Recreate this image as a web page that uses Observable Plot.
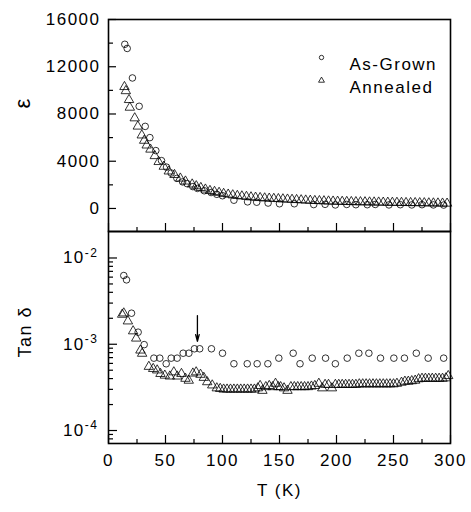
<!DOCTYPE html>
<html><head><meta charset="utf-8">
<script src="https://cdn.jsdelivr.net/npm/d3@7"></script>
<script src="https://cdn.jsdelivr.net/npm/@observablehq/plot@0.6"></script>
<style>
body{margin:0;background:#fff;}
#wrap{position:relative;width:471px;height:512px;font-family:"Liberation Sans",Arial,sans-serif;color:#000;}
#wrap svg{position:absolute;left:0;overflow:visible;}
</style></head><body><div id="wrap"></div>
<script>
// ---- data: permittivity (top panel) ----
const epsAsGrownT = [14.3,16.4,21,26.9,32.2,36.3,41.5,46.5,50.9,55,60,65,69,74,78,84,90,95,100,110,122,130,140,150,163,180,190,199,209,217,227,234,246,256,266,275,285,294];
const epsAsGrownV = [13900,13550,11050,8650,6950,6000,4900,4050,3500,3000,2550,2250,2100,1850,1700,1500,1350,1200,1080,700,560,530,460,400,400,330,350,300,340,320,320,340,300,320,300,320,300,290];
const epsAnnealedT = [14,15.2,18,18.7,23,25.7,29.2,31.3,33.5,36.8,40.6,44,48.5,52.9,57.9,63,67.5,73.4,77,81,85,89,93,97,101,105,109,113,117,121,125,129,133,137,141,145,149,153,157,161,165,169,173,177,181,185,189,193,197,201,205,209,213,217,221,225,229,233,237,241,245,249,253,257,261,265,269,273,277,281,285,289,293,297];
const epsAnnealedV = [10300,9950,9200,8550,7650,6950,6200,5750,5350,5000,4450,3950,3550,3150,2850,2550,2300,2050,1900,1750,1620,1500,1420,1340,1250,1190,1130,1080,1040,1000,960,930,900,870,850,830,810,790,770,750,730,710,690,670,650,640,625,610,600,590,580,570,560,550,545,540,530,525,520,510,505,500,495,490,480,475,470,465,460,450,445,440,430,425];

// ---- data: loss tangent (bottom panel) ----
const tanAsGrownT = [13.4,15.8,20.2,26,31.3,39.8,45,50.6,55,60.2,65.5,70.5,75.4,80,90.3,100,110,121.7,130.4,139.8,149.4,162,168,178.7,190.4,199,209.4,219.6,228.4,238.6,250.3,259.6,270,280.4,294];
const tanAsGrownV = [6.26e-3,5.58e-3,2.29e-3,1.38e-3,9.9e-4,6.9e-4,6.9e-4,5.94e-4,6.9e-4,6.9e-4,7.87e-4,7.87e-4,8.86e-4,8.86e-4,8.86e-4,7.87e-4,5.94e-4,5.94e-4,5.94e-4,5.94e-4,6.9e-4,7.87e-4,5.94e-4,6.9e-4,6.9e-4,5.94e-4,6.9e-4,7.87e-4,7.87e-4,6.9e-4,6.9e-4,6.9e-4,7.87e-4,6.9e-4,6.9e-4];
const tanAnnealedT = [12,13.4,17,21.6,24.3,28,29.5,35.4,39.2,42.7,45.6,49.4,53.8,57.3,60.3,64,67.5,70.4,74,76.9,80.7,83.6,86.6,91,95,98,101,104,107,110,113,116,119,122,125,128,131,133,135,138,141,144,146.5,149,151,154,157,160,163,166,169,172,175,178,181,184.5,187.5,190,193,196,199,202,205,208,211,214,217,220,223,226,229,232,235,238,241,244,247,250,253,257,260,263,266,269,272,275,278,281,284,287,290,293,296,298];
const tanAnnealedV = [2.21e-3,2.29e-3,1.85e-3,1.42e-3,1.17e-3,8.5e-4,7.8e-4,5.5e-4,5.2e-4,5.0e-4,4.55e-4,4.35e-4,4.25e-4,4.75e-4,4.25e-4,4.55e-4,4.0e-4,3.8e-4,4.6e-4,4.75e-4,4.45e-4,4.1e-4,3.65e-4,3.35e-4,3.1e-4,3.05e-4,3.0e-4,3.0e-4,3.0e-4,3.0e-4,3.0e-4,3.0e-4,3.0e-4,3.0e-4,3.0e-4,3.0e-4,3.1e-4,3.3e-4,2.9e-4,3.2e-4,3.3e-4,3.2e-4,3.5e-4,3.2e-4,3.2e-4,3.1e-4,2.9e-4,3.2e-4,3.2e-4,3.2e-4,3.2e-4,3.2e-4,3.2e-4,3.25e-4,3.3e-4,3.5e-4,3.1e-4,3.4e-4,3.4e-4,3.1e-4,3.4e-4,3.4e-4,3.4e-4,3.4e-4,3.4e-4,3.4e-4,3.4e-4,3.45e-4,3.45e-4,3.45e-4,3.45e-4,3.45e-4,3.45e-4,3.45e-4,3.45e-4,3.45e-4,3.45e-4,3.45e-4,3.5e-4,3.6e-4,3.7e-4,3.7e-4,3.75e-4,3.8e-4,3.95e-4,4.0e-4,4.0e-4,4.0e-4,4.0e-4,4.0e-4,4.0e-4,4.0e-4,4.05e-4,4.3e-4];

// arrow annotation (T, from, to)
const arrowT = [78];
const arrowFrom = [2.15e-3];
const arrowTo = [1.08e-3];

// ticks and labels
const xMajor = [0,50,100,150,200,250,300];
const xMinor = [25,75,125,175,225,275];
const epsMajor = [0,4000,8000,12000,16000];
const epsMinor = [2000,6000,10000,14000];
const tanMajor = [1e-2,1e-3,1e-4];
const tanMinor = [9e-3,8e-3,7e-3,6e-3,5e-3,4e-3,3e-3,2e-3,9e-4,8e-4,7e-4,6e-4,5e-4,4e-4,3e-4,2e-4,9e-5,8e-5];
const legendLabels = ["As-Grown","Annealed"];
const legendSymbols = ["circle","triangle"];
const xTitle = "T (K)";
const epsTitle = "ε";
const tanTitle = "Tan δ";

const zip = (T, V) => T.map((t, i) => ({T: t, v: V[i]}));
const epsAG = zip(epsAsGrownT, epsAsGrownV);
const epsAN = zip(epsAnnealedT, epsAnnealedV);
const tanAG = zip(tanAsGrownT, tanAsGrownV);
const tanAN = zip(tanAnnealedT, tanAnnealedV);
const arrows = arrowT.map((t, i) => ({T: t, from: arrowFrom[i], to: arrowTo[i]}));

const FONT = "Liberation Sans, Arial, sans-serif";
const common = {width: 471, marginLeft: 108, marginRight: 21, style: {fontFamily: FONT, background: "transparent", overflow: "visible", color: "#000"}};
const xScale = {domain: [0, 300]};

const dotStyle = {stroke: "black", strokeWidth: 0.8, fill: "none"};

const topChart = Plot.plot({
  ...common,
  height: 232, marginTop: 19, marginBottom: 1,
  x: xScale,
  y: {domain: [-1950, 16000]},
  marks: [
    Plot.axisY(epsMajor, {tickSize: -8, tickPadding: 16, fontSize: 17, label: null, strokeWidth: 1.2, tickFormat: d => String(d)}),
    Plot.axisY(epsMinor, {tickSize: -5, tickFormat: () => "", label: null, strokeWidth: 1.2}),
    Plot.axisX(xMajor, {anchor: "bottom", tickSize: -8, tickFormat: () => "", label: null, strokeWidth: 1.2}),
    Plot.axisX(xMinor, {anchor: "bottom", tickSize: -4, tickFormat: () => "", label: null, strokeWidth: 1.2}),
    Plot.dot(epsAN, {x: "T", y: "v", symbol: "triangle", r: 3.5, ...dotStyle}),
    Plot.dot(epsAG, {x: "T", y: "v", symbol: "circle", r: 3.3, ...dotStyle}),
    legendLabels.map((lab, i) => [
      Plot.dot([lab], {frameAnchor: "top-left", dx: 213, dy: 38 + i * 23, symbol: legendSymbols[i], r: 2.2, stroke: "black", strokeWidth: 0.8, fill: "none"}),
      Plot.text([lab], {frameAnchor: "top-left", dx: 241, dy: 38 + i * 23, text: d => d, textAnchor: "start", fontSize: 17, fill: "black"})
    ]),
    Plot.text([epsTitle], {frameAnchor: "left", dx: -86, dy: -17, rotate: -90, text: d => d, fontSize: 22, fill: "black"}),
    Plot.frame({stroke: "black", strokeWidth: 1.6})
  ]
});

const bottomChart = Plot.plot({
  ...common,
  height: 282, marginTop: 1, marginBottom: 69,
  x: xScale,
  y: {type: "log", domain: [7.07e-5, 0.02028]},
  marks: [
    Plot.axisY(tanMajor, {tickSize: -9, tickPadding: 19, fontSize: 17, label: null, strokeWidth: 1.2,
      tickFormat: d => "10" + Math.round(Math.log10(d))}),
    Plot.axisY(tanMinor, {tickSize: -5, tickFormat: () => "", label: null, strokeWidth: 1.2}),
    Plot.axisX(xMajor, {anchor: "bottom", tickSize: -8, tickPadding: 18, fontSize: 17, label: null, strokeWidth: 1.2}),
    Plot.axisX(xMinor, {anchor: "bottom", tickSize: -4, tickFormat: () => "", label: null, strokeWidth: 1.2}),
    Plot.dot(tanAN, {x: "T", y: "v", symbol: "triangle", r: 3.5, ...dotStyle}),
    Plot.dot(tanAG, {x: "T", y: "v", symbol: "circle", r: 3.3, ...dotStyle}),
    Plot.arrow(arrows, {x1: "T", x2: "T", y1: "from", y2: "to", stroke: "black", strokeWidth: 1.3, headLength: 8, headAngle: 30}),
    Plot.text([xTitle], {frameAnchor: "bottom", dy: 52, text: d => d, fontSize: 17, fill: "black"}),
    Plot.text([tanTitle], {frameAnchor: "left", dx: -83, dy: 20, rotate: -90, text: d => d, fontSize: 18, fill: "black"}),
    Plot.frame({stroke: "black", strokeWidth: 1.6})
  ]
});

topChart.style.top = "0px";
bottomChart.style.top = "230px";
const wrap = document.getElementById("wrap");
wrap.appendChild(topChart);
wrap.appendChild(bottomChart);

// superscript exponents on log tick labels
d3.select(bottomChart).selectAll('[aria-label="y-axis tick label"] text').each(function() {
  const s = this.textContent;
  if (!s.startsWith("10")) return;
  const exp = s.slice(2);
  const el = d3.select(this);
  el.text("10");
  el.append("tspan").attr("dy", "-0.55em").attr("font-size", 12).text(exp);
});
// horizontal widening like the scanned original
d3.selectAll("#wrap text").style("letter-spacing", "1.5px");
</script></body></html>
